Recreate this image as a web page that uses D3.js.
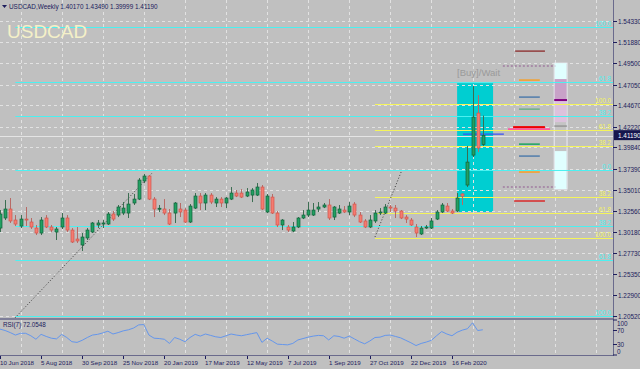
<!DOCTYPE html>
<html><head><meta charset="utf-8">
<script src="https://cdn.jsdelivr.net/npm/d3@7"></script>
<style>html,body{margin:0;padding:0;background:#c0c0c0;overflow:hidden}svg{display:block}</style>
</head><body><svg id="c" width="640" height="369"></svg>
<script>
const symbol = "USDCAD", period = "Weekly";
const opens = [1.3060,1.3175,1.3278,1.3152,1.3083,1.3163,1.3129,1.3060,1.3003,1.3175,1.3072,1.3014,1.3072,1.3175,1.3037,1.2934,1.2866,1.2946,1.3014,1.3095,1.3106,1.3106,1.3221,1.3209,1.3232,1.3232,1.3347,1.3392,1.3599,1.3656,1.3392,1.3280,1.3278,1.3232,1.3232,1.3278,1.3266,1.3129,1.3289,1.3427,1.3347,1.3438,1.3347,1.3392,1.3347,1.3392,1.3461,1.3461,1.3427,1.3438,1.3438,1.3530,1.3244,1.3415,1.3232,1.3095,1.3072,1.3026,1.3072,1.3175,1.3209,1.3209,1.3278,1.3301,1.3324,1.3186,1.3232,1.3266,1.3244,1.3335,1.3209,1.3141,1.3072,1.3141,1.3232,1.3232,1.3301,1.3289,1.3255,1.3186,1.3152,1.3072,1.2992,1.3060,1.3060,1.3163,1.3244,1.3312,1.3255,1.3255,1.3450,1.3553,1.3896,1.4378,1.4017];
const highs = [1.3266,1.3381,1.3404,1.3209,1.3209,1.3301,1.3175,1.3095,1.3186,1.3209,1.3095,1.3072,1.3232,1.3209,1.3060,1.3072,1.3003,1.3060,1.3129,1.3152,1.3152,1.3244,1.3255,1.3324,1.3358,1.3461,1.3450,1.3633,1.3679,1.3668,1.3415,1.3324,1.3392,1.3278,1.3358,1.3347,1.3289,1.3335,1.3461,1.3461,1.3461,1.3461,1.3415,1.3415,1.3415,1.3530,1.3496,1.3507,1.3518,1.3518,1.3576,1.3553,1.3450,1.3450,1.3255,1.3163,1.3095,1.3129,1.3186,1.3266,1.3358,1.3347,1.3358,1.3347,1.3392,1.3312,1.3324,1.3312,1.3358,1.3358,1.3244,1.3163,1.3209,1.3266,1.3289,1.3335,1.3324,1.3324,1.3266,1.3209,1.3175,1.3106,1.3083,1.3095,1.3175,1.3266,1.3347,1.3347,1.3278,1.3461,1.3461,1.4000,1.4687,1.4584,1.4349];
const lows = [1.3014,1.3152,1.3118,1.3083,1.3060,1.3083,1.3049,1.2980,1.2980,1.3060,1.3014,1.2923,1.3049,1.3014,1.2889,1.2889,1.2797,1.2923,1.3003,1.3060,1.3060,1.3095,1.3141,1.3186,1.3209,1.3175,1.3324,1.3381,1.3576,1.3381,1.3186,1.3244,1.3209,1.3095,1.3118,1.3186,1.3118,1.3118,1.3278,1.3266,1.3266,1.3335,1.3301,1.3301,1.3289,1.3381,1.3415,1.3404,1.3415,1.3358,1.3427,1.3266,1.3232,1.3221,1.3072,1.3037,1.3014,1.3014,1.3060,1.3163,1.3186,1.3198,1.3244,1.3289,1.3152,1.3152,1.3221,1.3232,1.3209,1.3186,1.3118,1.3060,1.3060,1.3118,1.3209,1.3221,1.3244,1.3175,1.3163,1.3118,1.3083,1.2957,1.2980,1.3049,1.3049,1.3152,1.3232,1.3244,1.3221,1.3244,1.3324,1.3530,1.3874,1.3931,1.39999];
const closes = [1.3221,1.3278,1.3141,1.3106,1.3163,1.3152,1.3072,1.3003,1.3152,1.3072,1.3037,1.3049,1.3175,1.3037,1.2900,1.2912,1.2957,1.3037,1.3118,1.3118,1.3118,1.3221,1.3163,1.3301,1.3289,1.3335,1.3392,1.3610,1.3656,1.3392,1.3278,1.3287,1.3232,1.3106,1.3347,1.3244,1.3129,1.3312,1.3427,1.3347,1.3438,1.3358,1.3392,1.3347,1.3404,1.3461,1.3427,1.3415,1.3473,1.3496,1.3530,1.3278,1.3427,1.3232,1.3095,1.3152,1.3037,1.3072,1.3175,1.3209,1.3266,1.3266,1.3301,1.3324,1.3175,1.3301,1.3278,1.3244,1.3312,1.3209,1.3129,1.3072,1.3152,1.3232,1.3244,1.3301,1.3289,1.3255,1.3175,1.3163,1.3095,1.3003,1.3060,1.3072,1.3141,1.3244,1.3324,1.3255,1.3232,1.3404,1.3427,1.3816,1.4332,1.3977,1.4119];
const rsi = [74,70,64,57,62,62,55,45,59,53,48,46,59,50,38,36,42,50,57,59,63,68,60,64,69,72,77,86,87,57,48,47,45,33,50,45,38,50,59,54,60,56,52,50,55,60,57,55,58,61,64,36,48,40,31,30,29,33,43,47,51,54,56,55,43,55,53,48,54,46,38,32,40,50,51,56,57,53,49,42,35,27,33,37,42,55,67,60,55,65,71,75,92,70,72.0548];
const dateLabels = ["10 Jun 2018","5 Aug 2018","30 Sep 2018","25 Nov 2018","20 Jan 2019","17 Mar 2019","12 May 2019","7 Jul 2019","1 Sep 2019","27 Oct 2019","22 Dec 2019","16 Feb 2020"];
const dateBars = [0,8,16,24,32,40,48,56,64,72,80,88];
const priceTicks = [1.54330,1.51880,1.49500,1.47050,1.44670,1.42220,1.39840,1.37390,1.35010,1.32560,1.30180,1.27730,1.25350,1.22900,1.20520];
const rsiTicks = [100,70,30,0];
const cyanLevels = [1.5362,1.4733,1.4343,1.3725,1.3083,1.2694,1.2052];
const cyanLabels = ["100.0","61.8","38.2","0.0","38.2","61.8","100.0"];
const yellowLevels = [1.4481,1.4183,1.4000,1.3415,1.3232,1.2946];
const yellowLabels = ["100.0","61.8","38.2","38.2","61.8","100.0"];
const trendLines = [[2.9,1.2029,29.8,1.3702],[73,1.2957,78.1,1.3702]];
const signalBox = [89,96,1.4721,1.3244];
const signalText = "[Buy]/Wait";
const segLevels = [1.5088,1.4916,1.4756,1.4561,1.4423,1.4194,1.4217,1.4137,1.4022,1.3885,1.3702,1.3530,1.3370];
const segStart  = [100.3,97.9,101.05,101.05,101.05,98.9,99.9,90.15,101.05,101.05,101.05,97.9,100.1];
const segEnd    = [106.1,108.1,105.1,105.1,105.1,107.1,106.1,98.1,105.1,105.1,105.1,108.1,106.1];
const segColors = ["#8b2a2a","#a07ca0","#ff9a10","#3f72a8","#5fae80","#ff5aa0","#ee0000","#3a50f0","#00a050","#3f72a8","#ff9a10","#a07ca0","#dd1111"];
const barTop = [1.4950,1.4767,1.4538,1.3942];
const barBottom = [1.4767,1.4538,1.4274,1.3507];
const barColors = ["#e0ffff","#c8a2c8","#dcc2dc","#e0ffff"];

const FONT = "'Liberation Sans', Arial, sans-serif";
const svg = d3.select("#c");
const R = 613; // axis line
const x = d3.scaleLinear().domain([0, 94]).range([0, 482.8]);
const y = d3.scaleLinear().domain([1.2052, 1.5433]).range([316, 21]);
const yr = d3.scaleLinear().domain([0, 100]).range([355, 320]);

svg.append("rect").attr("width",640).attr("height",369).attr("fill","#c0c0c0");
const defs = svg.append("defs");
defs.append("clipPath").attr("id","mainClip").append("rect").attr("x",0).attr("y",0).attr("width",R).attr("height",318);
defs.append("clipPath").attr("id","rsiClip").append("rect").attr("x",0).attr("y",320).attr("width",R).attr("height",35);

const main = svg.append("g").attr("clip-path","url(#mainClip)");

// signal box
main.append("rect").attr("x",x(signalBox[0])).attr("y",y(signalBox[2]))
  .attr("width",x(signalBox[1])-x(signalBox[0])).attr("height",y(signalBox[3])-y(signalBox[2]))
  .attr("fill","#00ced1");

// grid
const gridX = d3.range(4, 120, 8);
main.selectAll(".gx").data(gridX).join("line")
  .attr("x1",d=>Math.round(x(d))+0.5).attr("x2",d=>Math.round(x(d))+0.5).attr("y1",0).attr("y2",318)
  .attr("stroke","#e2e2e2").attr("stroke-dasharray","3,3").attr("stroke-width",1);
main.selectAll(".gy").data(priceTicks).join("line")
  .attr("x1",0).attr("x2",R).attr("y1",d=>Math.round(y(d))+0.5).attr("y2",d=>Math.round(y(d))+0.5)
  .attr("stroke","#e2e2e2").attr("stroke-dasharray","3,3").attr("stroke-width",1);

// vertical bar indicator
const vb = main.append("g");
vb.append("rect").attr("x",x(107.9)).attr("y",y(barTop[0])).attr("width",x(110.4)-x(107.9)).attr("height",y(barBottom[3])-y(barTop[0]))
  .attr("fill","#c4c4c4").attr("stroke","#ececf4").attr("stroke-width",1);
barTop.forEach((t,k)=>{
  vb.append("rect").attr("x",x(107.9)+0.5).attr("y",y(t)).attr("width",x(110.4)-x(107.9)-1).attr("height",y(barBottom[k])-y(t)).attr("fill",barColors[k]);
});
vb.append("line").attr("x1",x(107.9)).attr("x2",x(110.4)).attr("y1",y(1.4527)).attr("y2",y(1.4527)).attr("stroke","#800080").attr("stroke-width",2);
vb.append("line").attr("x1",x(107.9)).attr("x2",x(110.4)).attr("y1",y(1.4229)).attr("y2",y(1.4229)).attr("stroke","#808080").attr("stroke-width",1);

// bid line
main.append("line").attr("x1",0).attr("x2",R).attr("y1",Math.round(y(closes[94]))+0.5).attr("y2",Math.round(y(closes[94]))+0.5)
  .attr("stroke","#e4e4e4").attr("stroke-width",1);

// fib lines
function fib(levels, labels, startBar, color){
  levels.forEach((p,k)=>{
    const yy = Math.round(y(p))+0.5;
    main.append("line").attr("x1",x(startBar)).attr("x2",R).attr("y1",yy).attr("y2",yy).attr("stroke",color).attr("stroke-width",1);
    main.append("text").attr("x",611).attr("y",yy-1.5).attr("text-anchor","end").attr("font-family",FONT).attr("font-size",6.3).attr("fill",color).text(labels[k]);
  });
}
fib(cyanLevels, cyanLabels, 3, "#4cf0f0");
fib(yellowLevels, yellowLabels, 73, "#f4f45a");

// trend lines
trendLines.forEach(t=>{
  main.append("line").attr("x1",x(t[0])).attr("y1",y(t[1])).attr("x2",x(t[2])).attr("y2",y(t[3]))
    .attr("stroke","#3a3a3a").attr("stroke-width",1).attr("stroke-dasharray","1,2");
});

// segments
segLevels.forEach((p,k)=>{
  const isDot = segColors[k]==="#a07ca0";
  const w = segColors[k]==="#ee0000" ? 2 : (segColors[k]==="#ff5aa0" ? 1.6 : 1.3);
  main.append("line").attr("x1",x(segStart[k])).attr("x2",x(segEnd[k])).attr("y1",y(p)).attr("y2",y(p))
    .attr("stroke",segColors[k]).attr("stroke-width",isDot?1.5:w).attr("stroke-dasharray",isDot?"2,2":null);
});

// signal text
main.append("text").attr("x",x(signalBox[0])).attr("y",76).attr("font-family",FONT).attr("font-size",9.5).attr("fill","#9a9a9a").text(signalText);

// candles
const candles = d3.range(opens.length).map(i=>({i,o:opens[i],h:highs[i],l:lows[i],c:closes[i]}));
const cg = main.append("g");
candles.forEach(d=>{
  const cx = Math.round(x(d.i))+0.5;
  const up = d.c >= d.o;
  const stroke = up ? "#11603a" : "#d2554c";
  const fill = up ? "#22a062" : "#f47c70";
  cg.append("line").attr("x1",cx).attr("x2",cx).attr("y1",y(d.h)).attr("y2",y(d.l)).attr("stroke",up?"#3c6e52":"#b86a66").attr("stroke-width",1);
  const top = y(Math.max(d.o,d.c)), bot = y(Math.min(d.o,d.c));
  cg.append("rect").attr("x",cx-1.5).attr("y",top).attr("width",3).attr("height",Math.max(1,bot-top))
    .attr("fill",fill).attr("stroke",stroke).attr("stroke-width",0.7);
});

// big symbol text
svg.append("text").attr("x",7).attr("y",38).attr("font-family",FONT).attr("font-size",19).attr("fill","#f4f0c8").text(symbol);

// header
const f5 = v=>v.toFixed(5);
svg.append("path").attr("d","M2,5 L7,5 L4.5,8 Z").attr("fill","#1c1c5c");
svg.append("text").attr("x",9).attr("y",8.5).attr("font-family",FONT).attr("font-size",6.4).attr("fill","#1c1c5c")
  .text(`${symbol},${period}  ${f5(opens[94])} ${f5(highs[94])} ${f5(lows[94])} ${f5(closes[94])}`);

// RSI panel
const rg = svg.append("g").attr("clip-path","url(#rsiClip)");
rg.selectAll(".rgx").data(gridX).join("line")
  .attr("x1",d=>Math.round(x(d))+0.5).attr("x2",d=>Math.round(x(d))+0.5).attr("y1",320).attr("y2",355)
  .attr("stroke","#e2e2e2").attr("stroke-dasharray","3,3");
rg.append("path").datum(rsi).attr("fill","none").attr("stroke","#6496ec").attr("stroke-width",1)
  .attr("d", d3.line().x((d,i)=>x(i)).y(d=>yr(d)));
svg.append("text").attr("x",3).attr("y",327).attr("font-family",FONT).attr("font-size",6.3).attr("fill","#1c1c5c")
  .text(`RSI(7) ${rsi[94].toFixed(4)}`);

// frames
svg.append("line").attr("x1",0).attr("x2",R).attr("y1",319).attr("y2",319).attr("stroke","#6a6a8c").attr("stroke-width",1.5);
svg.append("line").attr("x1",0).attr("x2",R+0.5).attr("y1",355.5).attr("y2",355.5).attr("stroke","#6a6a8c").attr("stroke-width",1);
svg.append("line").attr("x1",R+0.5).attr("x2",R+0.5).attr("y1",0).attr("y2",356).attr("stroke","#6a6a8c").attr("stroke-width",1);

// price axis
const pa = svg.append("g");
priceTicks.forEach(p=>{
  const yy = Math.round(y(p))+0.5;
  pa.append("line").attr("x1",R).attr("x2",R+4).attr("y1",yy).attr("y2",yy).attr("stroke","#1c1c5c");
  pa.append("text").attr("x",618).attr("y",yy+2.3).attr("font-family",FONT).attr("font-size",6.4).attr("fill","#1c1c5c").text(p.toFixed(5));
});
const by = y(closes[94]);
pa.append("rect").attr("x",R+1).attr("y",by-5.5).attr("width",640-R-1).attr("height",10).attr("fill","#16164e");
pa.append("text").attr("x",618).attr("y",by+2.3).attr("font-family",FONT).attr("font-size",6.4).attr("fill","#ffffff").text(closes[94].toFixed(5));

// rsi axis
const rsiLabelY = {100:324,70:331,30:345,0:352};
rsiTicks.forEach(v=>{
  pa.append("line").attr("x1",R).attr("x2",R+4).attr("y1",yr(v)).attr("y2",yr(v)).attr("stroke","#1c1c5c");
  pa.append("text").attr("x",617).attr("y",rsiLabelY[v]+2.3).attr("font-family",FONT).attr("font-size",6.4).attr("fill","#1c1c5c").text(v);
});

// time axis
dateBars.forEach((b,k)=>{
  const xx = Math.round(x(b))+0.5;
  svg.append("line").attr("x1",xx).attr("x2",xx).attr("y1",356).attr("y2",359).attr("stroke","#1c1c5c");
  svg.append("text").attr("x",Math.max(0,xx-0.5)).attr("y",364.5).attr("font-family",FONT).attr("font-size",6.2).attr("fill","#1c1c5c").text(dateLabels[k]);
});
</script></body></html>
